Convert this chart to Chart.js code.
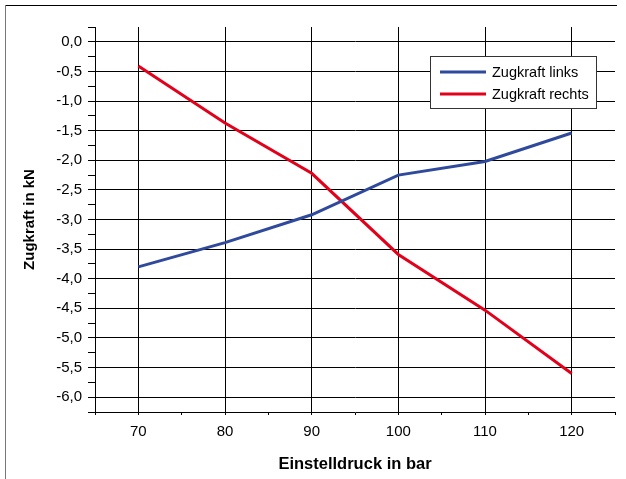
<!DOCTYPE html>
<html>
<head>
<meta charset="utf-8">
<script src="https://cdn.jsdelivr.net/npm/chart.js@4/dist/chart.umd.min.js"></script>
<style>
  body { margin: 0; background: #fff; }
  #wrap { width: 626px; height: 479px; }
</style>
</head>
<body>
<div id="wrap"><canvas id="grafica" width="626" height="479"></canvas></div>
<script>
// Einstelldruck in bar
const druck = [70, 80, 90, 100, 110, 120];
// Zugkraft in kN
const zugLinks = [-3.8, -3.39, -2.92, -2.25, -2.02, -1.54];
const zugRechts = [-0.41, -1.37, -2.22, -3.59, -4.53, -5.6];
const serienNamen = ['Zugkraft links', 'Zugkraft rechts'];
const farben = ['#2f4a9c', '#e2001a'];

const schrift = '"Liberation Sans", Arial, sans-serif';

function punkte(werte) {
  return druck.map((d, i) => ({ x: d, y: werte[i] }));
}

function istHalb(v) {
  return Math.abs(v * 2 - Math.round(v * 2)) < 1e-6;
}

// Rahmen um das Diagramm (oben und links)
const rahmen = {
  id: 'rahmen',
  beforeDraw(chart) {
    const c = chart.ctx;
    c.save();
    c.lineWidth = 1;
    c.strokeStyle = '#000';
    c.beginPath();
    c.moveTo(5, 5.5);
    c.lineTo(617, 5.5);
    c.stroke();
    c.strokeStyle = '#777';
    c.beginPath();
    c.moveTo(5.5, 5);
    c.lineTo(5.5, 479);
    c.stroke();
    c.restore();
  }
};

// Legende im Diagrammbereich
const legende = {
  id: 'legende',
  afterDatasetsDraw(chart) {
    const c = chart.ctx;
    const x = 430, y = 56, w = 166, h = 52;
    c.save();
    c.fillStyle = '#fff';
    c.fillRect(x, y, w, h);
    c.strokeStyle = '#333';
    c.lineWidth = 1;
    c.strokeRect(x + 0.5, y + 0.5, w, h);
    chart.data.datasets.forEach((ds, i) => {
      const zy = y + 16 + i * 22;
      c.strokeStyle = ds.borderColor;
      c.lineWidth = 3;
      c.beginPath();
      c.moveTo(440, zy);
      c.lineTo(486, zy);
      c.stroke();
      c.fillStyle = '#000';
      c.font = '14.5px ' + schrift;
      c.textBaseline = 'middle';
      c.fillText(ds.label, 492, zy + 1);
    });
    c.restore();
  }
};

new Chart(document.getElementById('grafica').getContext('2d'), {
  type: 'line',
  data: {
    datasets: [
      { label: serienNamen[0], data: punkte(zugLinks), borderColor: farben[0], borderWidth: 3, pointRadius: 0, tension: 0 },
      { label: serienNamen[1], data: punkte(zugRechts), borderColor: farben[1], borderWidth: 3, pointRadius: 0, tension: 0 }
    ]
  },
  options: {
    responsive: false,
    animation: false,
    layout: { padding: { top: 27, right: 11, left: 0, bottom: 0 } },
    plugins: { legend: { display: false }, tooltip: { enabled: false } },
    scales: {
      x: {
        type: 'linear',
        min: 65,
        max: 125,
        afterFit(scale) { scale.height = 67; },
        border: { display: true, color: '#000', width: 1 },
        grid: {
          color: ctx => (ctx.tick && ctx.tick.value % 10 === 0 && ctx.tick.value >= 70 && ctx.tick.value <= 120) ? '#000' : 'rgba(0,0,0,0)',
          tickColor: '#000',
          tickLength: 3,
          lineWidth: 1
        },
        ticks: {
          stepSize: 5,
          autoSkip: false,
          maxRotation: 0,
          padding: 8,
          color: '#000',
          font: { family: schrift, size: 15 },
          callback: v => (v % 10 === 0 && v >= 70 && v <= 120) ? String(v) : ''
        },
        title: {
          display: true,
          text: 'Einstelldruck in bar',
          color: '#000',
          font: { family: schrift, size: 16.5, weight: 'bold' },
          padding: { top: 0, bottom: 5 }
        }
      },
      y: {
        min: -6.25,
        max: 0.25,
        afterFit(scale) { scale.width = 95; },
        border: { display: true, color: '#000', width: 1 },
        grid: {
          color: ctx => (ctx.tick && istHalb(ctx.tick.value) && ctx.tick.value <= 0 && ctx.tick.value >= -6) ? '#000' : 'rgba(0,0,0,0)',
          tickColor: '#000',
          tickLength: 7,
          lineWidth: 1
        },
        ticks: {
          stepSize: 0.25,
          autoSkip: false,
          padding: 6,
          color: '#000',
          font: { family: schrift, size: 15 },
          callback: v => istHalb(v) && v <= 0 && v >= -6 ? v.toFixed(1).replace('.', ',') : ''
        },
        title: {
          display: true,
          text: 'Zugkraft in kN',
          color: '#000',
          font: { family: schrift, size: 15, weight: 'bold' },
          padding: { top: 21, bottom: 0 }
        }
      }
    }
  },
  plugins: [rahmen, legende]
});
</script>
</body>
</html>
